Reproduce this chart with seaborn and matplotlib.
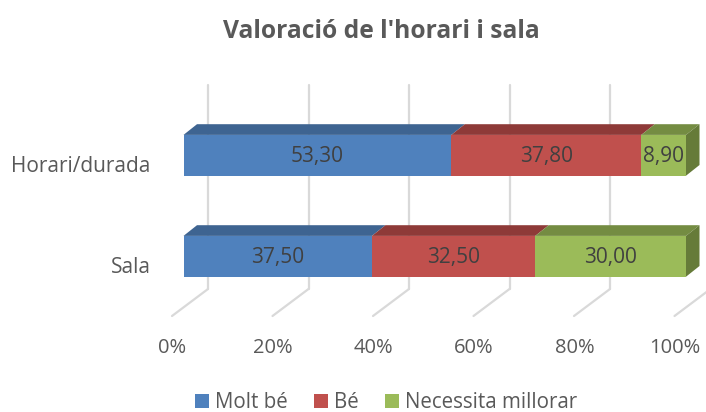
import matplotlib
matplotlib.use("Agg")
import numpy as np
import seaborn as sns
import matplotlib.pyplot as plt
from matplotlib.patches import Polygon
from matplotlib.transforms import Affine2D, blended_transform_factory

title = "Valoració de l'horari i sala"
categories = ["Horari/durada", "Sala"]
series_names = ["Molt bé", "Bé", "Necessita millorar"]
molt_be = [53.30, 37.50]
be = [37.80, 32.50]
necessita = [8.90, 30.00]
xticks = [0, 20, 40, 60, 80, 100]
xtick_labels = ["0%", "20%", "40%", "60%", "80%", "100%"]

front_colors = ["#4F81BD", "#C0504D", "#9BBB59"]
top_colors = ["#3E6491", "#8E3A38", "#748C42"]
side_color = "#667B39"
text_color = "#595959"

sns.set_theme(style="white")
plt.rcParams["font.family"] = ["Open Sans", "DejaVu Sans"]

W, H = 706, 412
fig = plt.figure(figsize=(W / 100, H / 100), dpi=100)
# plot area in pixels, front plane of the bars
left, right, top, bottom = 183.5, 686, 85, 316
ax = fig.add_axes([left / W, 1 - bottom / H, (right - left) / W, (bottom - top) / H])

starts = np.zeros(2)
for vals, name, col in zip([molt_be, be, necessita], series_names, front_colors):
    sns.barplot(x=vals, y=categories, left=starts, orient="h", color=col, saturation=1,
                width=0.404, label=name, errorbar=None, legend=False, ax=ax, zorder=3, linewidth=0)
    starts = starts + np.array(vals)

ax.set_xlim(0, 100)
ax.set_ylim((bottom - 155.3) / 101, (top - 155.3) / 101)
ax.set_xlabel("")
ax.set_ylabel("")
sns.despine(ax=ax, left=True, bottom=True)

# back wall and floor lines, shifted off the front plane
dx_back, dx_front = 24.5, -11.5
floor_frac = 27 / (bottom - top)
trans = blended_transform_factory(ax.transData, ax.transAxes)
for v in xticks:
    ax.plot([v, v], [floor_frac, 1], color="#D9D9D9", lw=1.6, clip_on=False, zorder=1,
            transform=trans + Affine2D().translate(dx_back, 0))
    x0 = trans.transform((v, 0))
    x1 = trans.transform((v, floor_frac))
    ax.plot([x0[0] + dx_front, x1[0] + dx_back], [x0[1], x1[1]], color="#D9D9D9", lw=1.6,
            clip_on=False, zorder=1, transform=None)

# 3d faces taken from the bars
depth_x, depth_y = 13.5, 10.7
for i, cont in enumerate(ax.containers):
    for bar in cont:
        (x0, y0), (x1, y1) = ax.transData.transform(bar.get_bbox().get_points())
        y_lo, y_hi = min(y0, y1), max(y0, y1)
        fig.add_artist(Polygon([(x0, y_hi), (x1, y_hi), (x1 + depth_x, y_hi + depth_y), (x0 + depth_x, y_hi + depth_y)],
                               closed=True, color=top_colors[i], lw=0, transform=None, zorder=2))
        if i == len(ax.containers) - 1:
            fig.add_artist(Polygon([(x1, y_lo), (x1, y_hi), (x1 + depth_x, y_hi + depth_y), (x1 + depth_x, y_lo + depth_y)],
                                   closed=True, color=side_color, lw=0, transform=None, zorder=2))
    labels = [f"{b.get_width():.2f}".replace(".", ",") for b in cont]
    for ann in ax.bar_label(cont, labels=labels, label_type="center", color="#404040", fontsize=15, zorder=5):
        ann.xyann = (0, -1.2)

ax.set_xticks(xticks)
ax.set_xticklabels(xtick_labels)
ax.tick_params(axis="x", length=0, pad=15.5, labelsize=14.5, labelcolor=text_color)
ax.tick_params(axis="y", length=0, pad=23.5, labelsize=15, labelcolor=text_color)
for lab in ax.get_xticklabels():
    lab.set_transform(lab.get_transform() + Affine2D().translate(-11, 0))
for lab in ax.get_yticklabels():
    lab.set_transform(lab.get_transform() + Affine2D().translate(0, -9))

fig.text(381 / W, 1 - 31.5 / H, title, ha="center", va="center", fontsize=17.7, fontweight="bold", color=text_color)

handles, names = ax.get_legend_handles_labels()
fig.legend(handles, names, loc="center", bbox_to_anchor=(386 / W, 1 - 402.5 / H), ncol=3, frameon=False,
           fontsize=14.8, labelcolor=text_color, handlelength=0.7, handleheight=0.7,
           handletextpad=0.3, columnspacing=1.25)

fig.savefig("out.png", dpi=100)
